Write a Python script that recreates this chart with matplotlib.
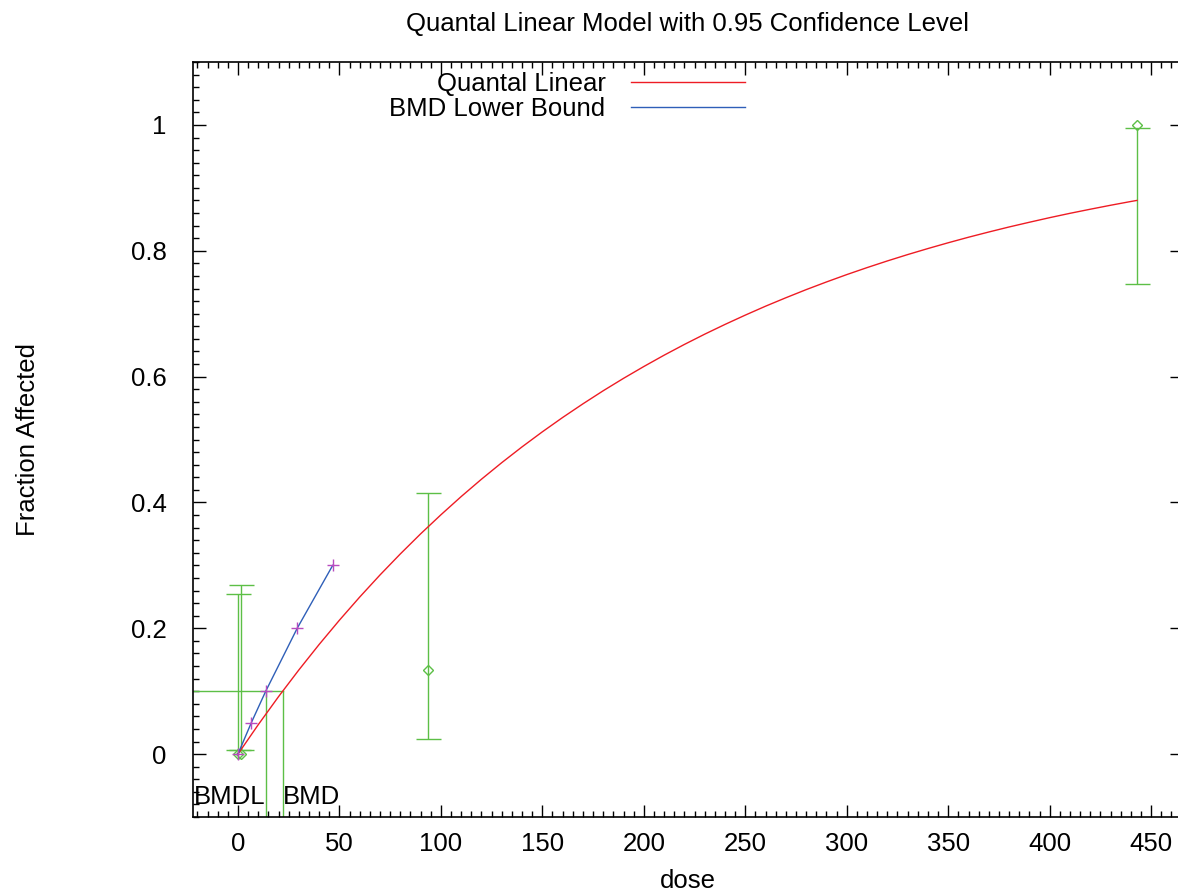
import matplotlib
matplotlib.use("Agg")
import matplotlib.pyplot as plt
from matplotlib.ticker import MultipleLocator

plt.rcParams['font.family'] = ['Liberation Sans', 'DejaVu Sans']

# Observed data (dose, fraction affected, CI bounds)
dose = [0.0, 1.6, 93.7, 443.0]
frac = [0.0, 0.0, 0.133, 1.0]
ci_lower = [0.006, 0.006, 0.0234, 0.747]
ci_upper = [0.254, 0.268, 0.4156, 0.995]

# Quantal Linear fitted curve
curve_dose = [0, 10, 20, 30, 40, 50, 60, 70, 80, 90, 100, 110, 120, 130, 140,
              150, 160, 170, 180, 190, 200, 210, 220, 230, 240, 250, 260, 270,
              280, 290, 300, 310, 320, 330, 340, 350, 360, 370, 380, 390, 400,
              410, 420, 430, 440, 443]
curve_frac = [0.0, 0.0467, 0.0913, 0.1337, 0.1742, 0.2128, 0.2496, 0.2847,
              0.3181, 0.3500, 0.3803, 0.4093, 0.4369, 0.4632, 0.4883, 0.5122,
              0.5350, 0.5567, 0.5775, 0.5972, 0.6160, 0.6340, 0.6511, 0.6674,
              0.6829, 0.6977, 0.7119, 0.7253, 0.7382, 0.7504, 0.7621, 0.7732,
              0.7838, 0.7939, 0.8035, 0.8127, 0.8215, 0.8298, 0.8378, 0.8453,
              0.8526, 0.8595, 0.8660, 0.8723, 0.8783, 0.8800]

# BMD lower bound line
bmdl_dose = [0.0, 6.6, 13.7, 29.2, 46.7]
bmdl_frac = [0.0, 0.05, 0.1, 0.2, 0.3]

bmr = 0.1
bmd = 22.0
bmdl = 13.7

xlim = (-22.15, 465.2)
ylim = (-0.1, 1.1)
xticks = [0, 50, 100, 150, 200, 250, 300, 350, 400, 450]
yticks = [0, 0.2, 0.4, 0.6, 0.8, 1.0]
ytick_labels = ['0', '0.2', '0.4', '0.6', '0.8', '1']

RED = '#ee1c24'
BLUE = '#2f5fb8'
GREEN = '#5cbf46'
PURPLE = '#b84cc0'
FS = 18.5

fig = plt.figure(figsize=(11.78, 8.92), dpi=100)
ax = fig.add_axes([193/1178, 75/892, 989/1178, 755/892])

ax.set_xlim(*xlim)
ax.set_ylim(*ylim)

# Error bars (CI) + data points
ax.vlines(dose, ci_lower, ci_upper, color=GREEN, lw=1.0, zorder=3)
ax.plot(dose, ci_lower, ls='none', marker='_', ms=18, mew=1.0, color=GREEN, zorder=3)
ax.plot(dose, ci_upper, ls='none', marker='_', ms=18, mew=1.0, color=GREEN, zorder=3)
ax.plot(dose, frac, ls='none', marker='D', mfc='none', mec=GREEN, ms=5.5, mew=1.0, zorder=3)

# Fitted curve
ax.plot(curve_dose, curve_frac, color=RED, lw=1.0, label='Quantal Linear', zorder=4)

# BMDL line
ax.plot(bmdl_dose, bmdl_frac, color=BLUE, lw=1.0, label='BMD Lower Bound', zorder=4)
ax.plot(bmdl_dose, bmdl_frac, ls='none', marker='+', color=PURPLE, ms=8, mew=1.0, zorder=5)

# BMD / BMDL indicator lines
ax.plot([xlim[0], bmd], [bmr, bmr], color=GREEN, lw=1.0, zorder=2)
ax.plot([bmdl, bmdl], [ylim[0], bmr], color=GREEN, lw=1.0, zorder=2)
ax.plot([bmd, bmd], [ylim[0], bmr], color=GREEN, lw=1.0, zorder=2)
ax.text(bmdl, -0.068, 'BMDL', ha='right', va='center', fontsize=FS)
ax.text(bmd, -0.068, 'BMD', ha='left', va='center', fontsize=FS)

# Ticks
ax.set_xticks(xticks)
ax.xaxis.set_minor_locator(MultipleLocator(5))
ax.set_yticks(yticks)
ax.set_yticklabels(ytick_labels)
ax.yaxis.set_minor_locator(MultipleLocator(0.02))
ax.tick_params(axis='x', which='both', direction='in', top=True, bottom=True)
ax.tick_params(axis='y', which='both', direction='in', left=True, right=False)
ax.tick_params(which='major', length=9, width=1.0, labelsize=FS)
ax.tick_params(which='minor', length=4.5, width=1.0)
ax.tick_params(axis='x', which='major', pad=11)
ax.tick_params(axis='y', which='major', pad=19)

# right side major ticks only
axr = ax.twinx()
axr.set_ylim(*ylim)
axr.set_yticks(yticks)
axr.set_yticklabels([])
axr.tick_params(axis='y', direction='in', length=9, width=1.0)
for s in axr.spines.values():
    s.set_visible(False)

for s in ['left', 'bottom', 'top']:
    ax.spines[s].set_linewidth(1.2)
ax.spines['right'].set_visible(False)

ax.set_xlabel('dose', fontsize=FS, labelpad=9)
ax.set_ylabel('Fraction Affected', fontsize=FS, labelpad=65)
ax.set_title('Quantal Linear Model with 0.95 Confidence Level', fontsize=FS, pad=22)

ax.legend(loc='upper right', bbox_to_anchor=(745/1178, (892-72)/892),
          bbox_transform=fig.transFigure, frameon=False, markerfirst=False,
          fontsize=FS, handlelength=4.45, handletextpad=0.98, labelspacing=0.05,
          borderpad=0, borderaxespad=0)

fig.savefig('out.png', dpi=100)
